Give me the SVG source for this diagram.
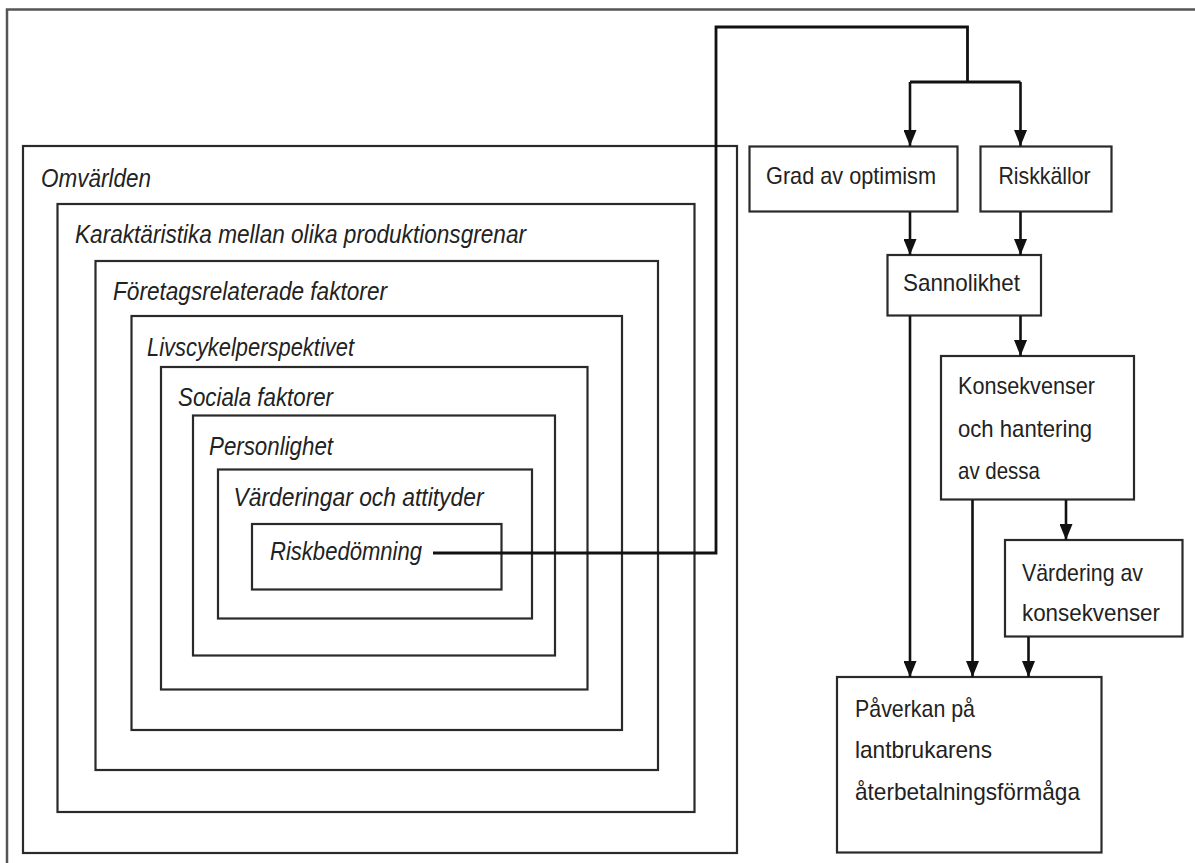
<svg xmlns="http://www.w3.org/2000/svg" width="1195" height="863" viewBox="0 0 1195 863">
<defs>
<style>
.frame{fill:none;stroke:#555;stroke-width:2.5}
.box{fill:none;stroke:#2a2a2a;stroke-width:2.2}
.lbl{font-family:"Liberation Sans",Arial,sans-serif;font-style:italic;font-size:25px;fill:#222}
.txt{font-family:"Liberation Sans",Arial,sans-serif;font-size:24px;fill:#222}
.con{fill:none;stroke:#111;stroke-width:2.8}
.arr{fill:none;stroke:#111;stroke-width:2.6;marker-end:url(#ah)}
</style>
<marker id="ah" viewBox="0 -6.5 16 13" refX="16" refY="0" markerWidth="16" markerHeight="13" markerUnits="userSpaceOnUse" orient="auto">
<path d="M0,-6.5 L16,0 L0,6.5 z" fill="#111"/>
</marker>
</defs>
<rect width="1195" height="863" fill="#fff"/>
<rect class="frame" x="7" y="9.5" width="1250" height="900"/>

<g id="omvarlden"><rect class="box" x="23" y="146" width="714" height="707"/><text class="lbl" x="41" y="187" textLength="110" lengthAdjust="spacingAndGlyphs">Omvärlden</text></g>
<g id="karaktaristika"><rect class="box" x="57.5" y="204" width="637" height="608"/><text class="lbl" x="75" y="243" textLength="451" lengthAdjust="spacingAndGlyphs">Karaktäristika mellan olika produktionsgrenar</text></g>
<g id="foretag"><rect class="box" x="95.5" y="261" width="562.5" height="509"/><text class="lbl" x="113" y="300" textLength="274" lengthAdjust="spacingAndGlyphs">Företagsrelaterade faktorer</text></g>
<g id="livscykel"><rect class="box" x="131.5" y="316" width="490.5" height="414"/><text class="lbl" x="147" y="356" textLength="207" lengthAdjust="spacingAndGlyphs">Livscykelperspektivet</text></g>
<g id="sociala"><rect class="box" x="161" y="367" width="426.5" height="322.5"/><text class="lbl" x="178" y="406" textLength="155" lengthAdjust="spacingAndGlyphs">Sociala faktorer</text></g>
<g id="personlighet"><rect class="box" x="193" y="415.5" width="362" height="240"/><text class="lbl" x="209" y="455" textLength="124" lengthAdjust="spacingAndGlyphs">Personlighet</text></g>
<g id="varderingar"><rect class="box" x="218" y="469.5" width="314" height="149"/><text class="lbl" x="233.5" y="506" textLength="250" lengthAdjust="spacingAndGlyphs">Värderingar och attityder</text></g>
<g id="riskbedomning"><rect class="box" x="252" y="524" width="249.5" height="65.5"/><text class="lbl" x="270" y="560" textLength="152" lengthAdjust="spacingAndGlyphs">Riskbedömning</text></g>

<g id="grad"><rect class="box" x="749.5" y="146.5" width="208" height="65"/><text class="txt" x="766" y="184" textLength="170" lengthAdjust="spacingAndGlyphs">Grad av optimism</text></g>
<g id="riskkallor"><rect class="box" x="980.5" y="146.5" width="131" height="65"/><text class="txt" x="998.5" y="184" textLength="92" lengthAdjust="spacingAndGlyphs">Riskkällor</text></g>
<g id="sannolikhet"><rect class="box" x="887.5" y="255" width="153.5" height="60.5"/><text class="txt" x="903" y="290.5" textLength="117" lengthAdjust="spacingAndGlyphs">Sannolikhet</text></g>
<g id="konsekvenser"><rect class="box" x="941" y="356" width="193" height="143.5"/><text class="txt" x="958" y="394" textLength="137" lengthAdjust="spacingAndGlyphs">Konsekvenser</text><text class="txt" x="958" y="436.5" textLength="134" lengthAdjust="spacingAndGlyphs">och hantering</text><text class="txt" x="958" y="479" textLength="82" lengthAdjust="spacingAndGlyphs">av dessa</text></g>
<g id="vardering"><rect class="box" x="1005" y="540" width="177.5" height="96.5"/><text class="txt" x="1022" y="580.5" textLength="121" lengthAdjust="spacingAndGlyphs">Värdering av</text><text class="txt" x="1022" y="620.5" textLength="138" lengthAdjust="spacingAndGlyphs">konsekvenser</text></g>
<g id="paverkan"><rect class="box" x="837" y="677" width="264.5" height="175.5"/><text class="txt" x="855" y="716.5" textLength="120" lengthAdjust="spacingAndGlyphs">Påverkan på</text><text class="txt" x="855" y="757.5" textLength="137" lengthAdjust="spacingAndGlyphs">lantbrukarens</text><text class="txt" x="855" y="799.5" textLength="225" lengthAdjust="spacingAndGlyphs">återbetalningsförmåga</text></g>

<g id="connectors">
<polyline class="con" points="433,553 716,553 716,27 967.5,27 967.5,82"/>
<polyline class="con" points="910,82 1020.5,82"/>
<line class="arr" x1="910" y1="82" x2="910" y2="146"/>
<line class="arr" x1="1020.5" y1="82" x2="1020.5" y2="146"/>
<line class="arr" x1="910" y1="212" x2="910" y2="255"/>
<line class="arr" x1="1020.5" y1="212" x2="1020.5" y2="255"/>
<line class="arr" x1="1020.5" y1="316" x2="1020.5" y2="356"/>
<line class="arr" x1="910" y1="316" x2="910" y2="677"/>
<line class="arr" x1="972.5" y1="500" x2="972.5" y2="677"/>
<line class="arr" x1="1066" y1="500" x2="1066" y2="540"/>
<line class="arr" x1="1028.5" y1="637" x2="1028.5" y2="677"/>
</g>
</svg>
